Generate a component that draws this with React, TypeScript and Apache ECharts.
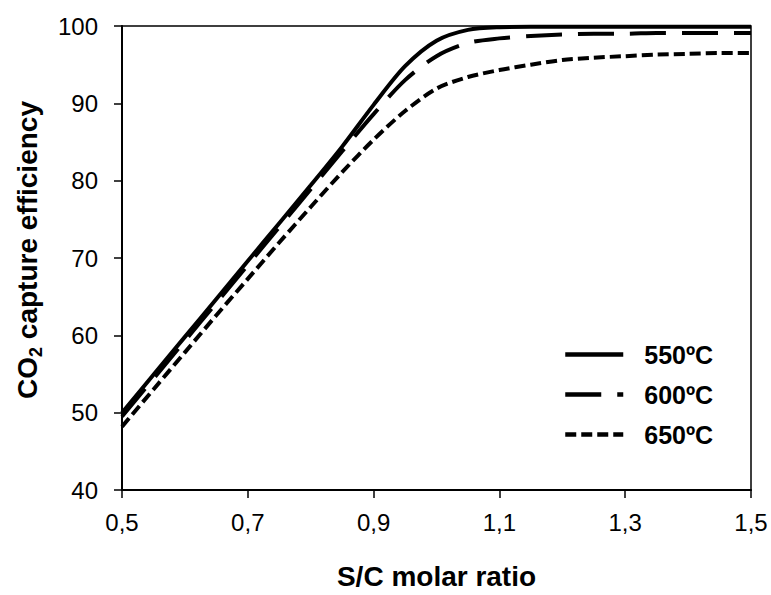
import React, { useEffect, useRef } from "react";
import * as echarts from "echarts";

const xValues = [0.5, 0.55, 0.6, 0.65, 0.7, 0.75, 0.8, 0.85, 0.9, 0.95, 1.0, 1.05, 1.1, 1.15, 1.2, 1.25, 1.3, 1.35, 1.4, 1.45, 1.5];
const s550 = [50.0, 54.9, 59.8, 64.7, 69.6, 74.5, 79.4, 84.4, 89.8, 94.8, 98.1, 99.5, 99.85, 99.9, 99.9, 99.9, 99.9, 99.9, 99.9, 99.9, 99.9];
const s600 = [49.5, 54.4, 59.3, 64.2, 69.1, 74.0, 78.9, 83.8, 88.6, 93.0, 96.1, 97.8, 98.4, 98.7, 98.9, 99.0, 99.0, 99.1, 99.1, 99.1, 99.1];
const s650 = [48.2, 53.0, 57.8, 62.6, 67.3, 72.0, 76.6, 81.1, 85.3, 89.0, 91.9, 93.4, 94.3, 95.0, 95.6, 95.9, 96.1, 96.3, 96.4, 96.5, 96.5];
const seriesNames = ["550ºC", "600ºC", "650ºC"];
const xTitle = "S/C molar ratio";

const FONT = "'Liberation Sans', Arial, sans-serif";

const styles = [
  { color: "#000", width: 4, type: "solid" as any },
  { color: "#000", width: 4, type: [36, 16] as any },
  { color: "#000", width: 4, type: [11, 5] as any },
];

export default function App() {
  const ref = useRef<HTMLDivElement>(null);
  useEffect(() => {
    if (!ref.current) return;
    const chart = echarts.init(ref.current, undefined, { renderer: "svg" });
    const mk = (ys: number[]) => xValues.map((x, i) => [x, ys[i]]);
    const lineCommon = {
      type: "line" as const,
      symbol: "none",
      smooth: 0.3,
      silent: true,
    };
    chart.setOption({
      animation: false,
      grid: {
        left: 122,
        right: 20,
        top: 26,
        bottom: 98,
        show: true,
        borderColor: "#000",
        borderWidth: 1.5,
      },
      legend: {
        orient: "vertical",
        left: 563,
        top: 342,
        padding: 0,
        itemWidth: 58,
        itemHeight: 14,
        itemGap: 15,
        itemStyle: { opacity: 0 },
        textStyle: {
          fontFamily: FONT,
          fontSize: 25,
          fontWeight: "bold",
          color: "#000",
          lineHeight: 25,
          padding: [0, 0, 0, 16],
        },
        data: seriesNames.map((n, i) => ({
          name: n,
          lineStyle: { ...styles[i], width: 4.5 },
          itemStyle: { opacity: 0 },
        })),
      },
      xAxis: {
        type: "value",
        min: 0.5,
        max: 1.5,
        interval: 0.2,
        name: xTitle,
        nameLocation: "middle",
        nameGap: 72,
        nameTextStyle: { fontFamily: FONT, fontSize: 28, fontWeight: "bold", color: "#000" },
        axisLine: { lineStyle: { color: "#000", width: 2 } },
        axisTick: { show: true, inside: false, length: 8, lineStyle: { color: "#000", width: 1.5 } },
        axisLabel: {
          fontFamily: FONT,
          fontSize: 24,
          color: "#000",
          margin: 20,
          formatter: (v: number) => v.toFixed(1).replace(".", ","),
        },
        splitLine: { show: false },
      },
      yAxis: {
        type: "value",
        min: 40,
        max: 100,
        interval: 10,
        axisLine: { show: true, lineStyle: { color: "#000", width: 2 } },
        axisTick: { show: true, inside: false, length: 8, lineStyle: { color: "#000", width: 1.5 } },
        axisLabel: { fontFamily: FONT, fontSize: 24, color: "#000", margin: 24 },
        splitLine: { show: false },
      },
      graphic: [
        {
          type: "text",
          x: 27,
          y: 250,
          rotation: Math.PI / 2,
          style: {
            text: "{a|CO}{s|2}{a| capture efficiency}",
            align: "center",
            verticalAlign: "middle",
            fill: "#000",
            rich: {
              a: { fontFamily: FONT, fontSize: 28, fontWeight: "bold", fill: "#000", verticalAlign: "bottom" },
              s: { fontFamily: FONT, fontSize: 18, fontWeight: "bold", fill: "#000", verticalAlign: "bottom", padding: [0, 0, -4, 0] },
            },
          },
        },
      ],
      series: [
        { ...lineCommon, name: seriesNames[0], data: mk(s550), lineStyle: styles[0], itemStyle: { color: "#000" }, z: 3 },
        { ...lineCommon, name: seriesNames[1], data: mk(s600), lineStyle: styles[1], itemStyle: { color: "#000" }, z: 2 },
        { ...lineCommon, name: seriesNames[2], data: mk(s650), lineStyle: styles[2], itemStyle: { color: "#000" }, z: 2 },
      ],
    });
    return () => chart.dispose();
  }, []);
  return <div ref={ref} style={{ width: 771, height: 595, position: "absolute", left: 0, top: 0, background: "#fff" }} />;
}
